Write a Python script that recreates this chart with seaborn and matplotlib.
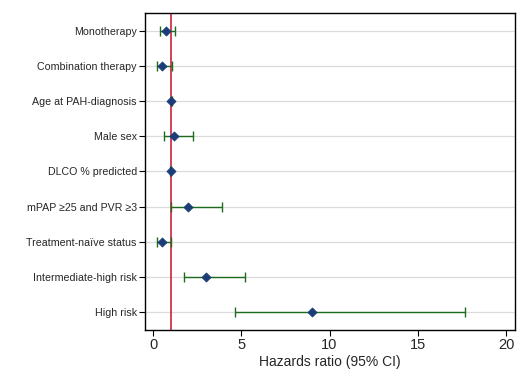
import numpy as np
import pandas as pd
import matplotlib
matplotlib.use('Agg')
import matplotlib.pyplot as plt
import seaborn as sns

# ------------------------------------------------------------
# data
# ------------------------------------------------------------
labels = ["Monotherapy", "Combination therapy", "Age at PAH-diagnosis",
          "Male sex", "DLCO % predicted", "mPAP \u226525 and PVR \u22653",
          "Treatment-na\u00efve status", "Intermediate-high risk", "High risk"]
hr    = [0.73, 0.53, 1.03, 1.20, 0.99, 1.96, 0.51, 3.00, 9.00]
ci_lo = [0.41, 0.24, 0.99, 0.64, 0.97, 1.00, 0.24, 1.77, 4.62]
ci_hi = [1.24, 1.09, 1.06, 2.28, 1.01, 3.92, 1.00, 5.18, 17.70]
x_ticks = [0, 5, 10, 15, 20]

df = pd.DataFrame({"label": labels, "hr": hr, "lo": ci_lo, "hi": ci_hi})
df["pos"] = np.arange(len(df))

sns.set_theme(style="white")
plt.rcParams['font.family'] = ['Liberation Sans', 'DejaVu Sans']

fig = plt.figure(figsize=(5.28, 3.84), dpi=100)
ax = fig.add_axes([0.275, 0.141, 0.700, 0.825])

for y in df["pos"]:
    ax.axhline(y, color='#dcdcdc', linewidth=0.9, zorder=0)

ax.axvline(1, color='#c8102e', linewidth=1.1, zorder=1)

ax.errorbar(df["hr"], df["pos"],
            xerr=[df["hr"] - df["lo"], df["hi"] - df["hr"]],
            fmt='none', ecolor='#1e6b1e', elinewidth=1.0,
            capsize=3.5, capthick=1.0, zorder=2)

sns.scatterplot(data=df, x="hr", y="pos", marker="D", s=22,
                color='#1a3c78', edgecolor='#1a3c78', linewidth=0.5,
                zorder=3, ax=ax, legend=False)

ax.set_xlim(-0.45, 20.5)
ax.set_ylim(len(df) - 0.5, -0.5)
ax.set_yticks(df["pos"])
ax.set_yticklabels(df["label"], fontsize=7.7)
ax.set_xticks(x_ticks)
ax.set_xticklabels([str(t) for t in x_ticks], fontsize=10.5)
ax.set_xlabel("Hazards ratio (95% CI)", fontsize=10, labelpad=2)
ax.set_ylabel("")

for s in ax.spines.values():
    s.set_color('black')
    s.set_linewidth(1.0)
ax.tick_params(axis='both', which='both', direction='out', length=4,
               width=0.8, color='black', left=True, bottom=True, pad=2)

fig.savefig("out.png", dpi=100)
